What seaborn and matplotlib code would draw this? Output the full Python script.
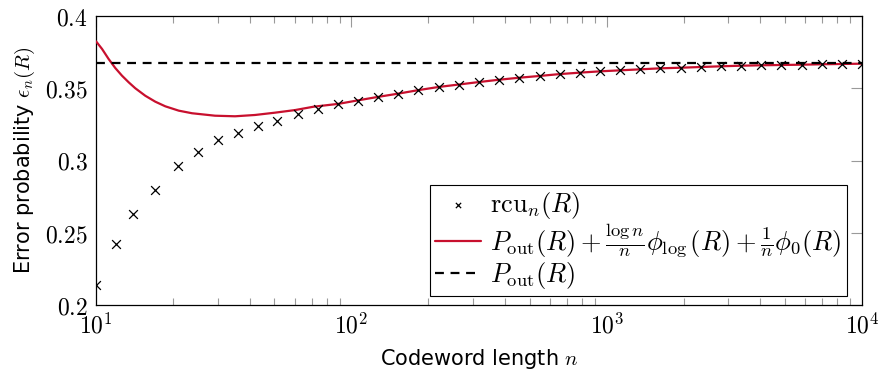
import numpy as np
import pandas as pd
import matplotlib
matplotlib.use("Agg")
import matplotlib.pyplot as plt
import seaborn as sns
from matplotlib.ticker import LogLocator, FixedLocator, NullFormatter

# --------------------------------------------------------------
# datos
# --------------------------------------------------------------
rcu_n = [10, 12, 14, 17, 21, 25, 30, 36, 43, 51, 62, 74, 89, 106, 127, 153, 183,
         220, 264, 316, 379, 455, 546, 654, 785, 941, 1129, 1354, 1624, 1947,
         2336, 2801, 3360, 4030, 4833, 5796, 6952, 8338, 10000]
rcu_val = [0.2136, 0.2420, 0.2628, 0.2794, 0.2962, 0.3059, 0.3140, 0.3190, 0.3237,
           0.3276, 0.3323, 0.3356, 0.3391, 0.3414, 0.3439, 0.3462, 0.3486, 0.3509,
           0.3525, 0.3543, 0.3559, 0.3573, 0.3585, 0.3599, 0.3608, 0.3617, 0.3624,
           0.3631, 0.3638, 0.3642, 0.3647, 0.3652, 0.3656, 0.3659, 0.3661, 0.3663,
           0.3666, 0.3668, 0.3670]

approx_n = [10, 10.56, 11.21, 11.9, 12.64, 13.43, 14.25, 15.6, 17.07, 18.68, 21.08,
            23.77, 29.25, 35.04, 41.96, 50.25, 60.19, 71.0, 89, 106, 127, 153, 183,
            220, 264, 316, 379, 455, 546, 654, 785, 941, 1129, 1354, 1624, 1947,
            2336, 2801, 3360, 4030, 4833, 5796, 6952, 8338, 10000]
approx_val = [0.3825, 0.3772, 0.3702, 0.3640, 0.3587, 0.3541, 0.3500, 0.3448, 0.3407,
              0.3375, 0.3345, 0.3327, 0.3310, 0.3306, 0.3315, 0.3331, 0.3349, 0.3372,
              0.3392, 0.3416, 0.3440, 0.3463, 0.3487, 0.3509, 0.3526, 0.3543, 0.3559,
              0.3573, 0.3585, 0.3598, 0.3608, 0.3617, 0.3624, 0.3631, 0.3638, 0.3642,
              0.3647, 0.3652, 0.3656, 0.3659, 0.3661, 0.3663, 0.3666, 0.3668, 0.3670]

pout_n = [10, 10000]
pout_val = [0.3678, 0.3678]

y_ticks = [0.2, 0.25, 0.3, 0.35, 0.4]
y_tick_labels = ["$0.2$", "$0.25$", "$0.3$", "$0.35$", "$0.4$"]
x_ticks = [10, 100, 1000, 10000]
x_tick_labels = ["$10^{1}$", "$10^{2}$", "$10^{3}$", "$10^{4}$"]

df_rcu = pd.DataFrame({"n": rcu_n, "val": rcu_val})
df_approx = pd.DataFrame({"n": approx_n, "val": approx_val})
df_pout = pd.DataFrame({"n": pout_n, "val": pout_val})

# --------------------------------------------------------------
# estilo
# --------------------------------------------------------------
sns.set_theme(style="white")
plt.rcParams["font.family"] = ["DejaVu Sans"]
plt.rcParams["mathtext.fontset"] = "cm"
plt.rcParams["text.color"] = "black"
plt.rcParams["axes.labelcolor"] = "black"
plt.rcParams["xtick.labelcolor"] = "black"
plt.rcParams["ytick.labelcolor"] = "black"

fig = plt.figure(figsize=(8.82, 3.74), dpi=100)
ax = fig.add_axes([96 / 882, 69 / 374, 766 / 882, 289 / 374])

rojo = "#C8102E"

sns.scatterplot(data=df_rcu, x="n", y="val", ax=ax, marker="x", color="black",
                s=40, linewidth=0.9, label=r"$\mathrm{rcu}_n(R)$", zorder=4)
sns.lineplot(data=df_approx, x="n", y="val", ax=ax, color=rojo, linewidth=1.6,
             label=r"$P_{\mathrm{out}}(R)+\frac{\log n}{n}\phi_{\log}(R)+\frac{1}{n}\phi_0(R)$",
             zorder=3)
sns.lineplot(data=df_pout, x="n", y="val", ax=ax, color="black", linewidth=1.6,
             linestyle=(0, (4, 3)), label=r"$P_{\mathrm{out}}(R)$", zorder=3)

ax.set_xscale("log")
ax.set_xlim(10, 10000)
ax.set_ylim(0.2, 0.4)

ax.xaxis.set_major_locator(FixedLocator(x_ticks))
ax.set_xticklabels(x_tick_labels)
ax.xaxis.set_minor_locator(LogLocator(base=10, subs=np.arange(2, 10)))
ax.xaxis.set_minor_formatter(NullFormatter())
ax.set_yticks(y_ticks)
ax.set_yticklabels(y_tick_labels)

ax.tick_params(axis="both", which="major", direction="in", length=8, width=0.8,
               color="#9a9a9a", top=True, right=True, labelsize=17, pad=6)
ax.tick_params(axis="x", which="minor", direction="in", length=5, width=0.8,
               color="#9a9a9a", top=True, bottom=True)

for sp in ax.spines.values():
    sp.set_color("black")
    sp.set_linewidth(0.9)

ax.set_xlabel(r"Codeword length $n$", fontsize=15, labelpad=6)
ax.set_ylabel(r"Error probability $\epsilon_n(R)$", fontsize=15, labelpad=6)

leg = ax.legend(loc="lower right", bbox_to_anchor=(0.98, 0.03), fontsize=19,
                frameon=True, fancybox=False, framealpha=1, edgecolor="black",
                borderpad=0.2, labelspacing=0.02, handlelength=1.75, handletextpad=0.35,
                borderaxespad=0, markerscale=0.6)
leg.get_frame().set_linewidth(0.8)

fig.savefig("out.png", dpi=100)
